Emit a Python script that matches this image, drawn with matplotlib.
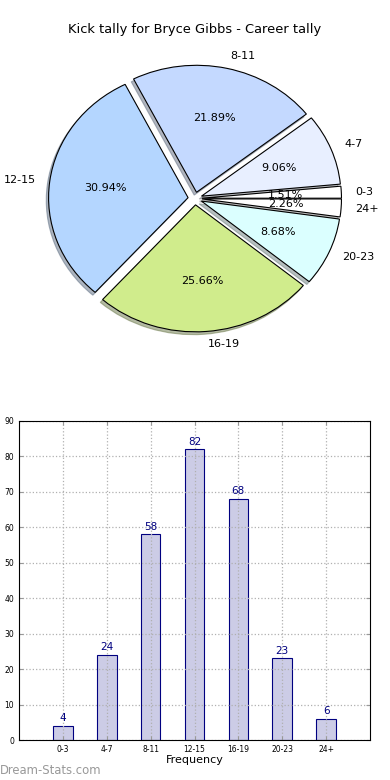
import matplotlib
matplotlib.use("Agg")
import matplotlib.pyplot as plt

title = "Kick tally for Bryce Gibbs - Career tally"
categories = ["0-3", "4-7", "8-11", "12-15", "16-19", "20-23", "24+"]
counts = [4, 24, 58, 82, 68, 23, 6]
pie_colors = ["#ffffff", "#e8efff", "#c4d9ff", "#b4d6ff", "#d0ec8c", "#dbffff", "#ffffff"]

fig = plt.figure(figsize=(3.9, 7.8), dpi=100)

# pie (top half), stretched horizontally like the original
ax1 = fig.add_axes([0.0, 428 / 780, 1.0, 307 / 780])
ax1.pie(counts, labels=categories, colors=pie_colors, explode=[0.05] * len(counts),
        autopct="%1.2f%%", startangle=0,
        shadow=dict(ox=-0.012, oy=-0.016, shade=0.5),
        wedgeprops=dict(edgecolor="black", linewidth=0.8),
        textprops=dict(fontsize=8))
ax1.set_aspect("auto")
ax1.set_xlim(-195 / 139.5, 195 / 139.5)
ax1.set_ylim(-153.5 / 127, 153.5 / 127)
fig.text(0.5, 1 - 30 / 780, title, ha="center", va="center", fontsize=9.4)

# bar chart (bottom half)
ax2 = fig.add_axes([19 / 390, 40 / 780, 351 / 390, 319 / 780])
x = list(range(len(categories)))
bars = ax2.bar(x, counts, width=0.45, color="#ccccE6", edgecolor="#000080", linewidth=0.8)
for xi, c in zip(x, counts):
    ax2.text(xi, c + 0.8, str(c), ha="center", va="bottom", fontsize=7.5, color="#000080")
ax2.set_xlim(-1, 7)
ax2.set_ylim(0, 90)
ax2.set_xticks(x)
ax2.set_xticklabels(categories)
ax2.set_yticks(range(0, 91, 10))
ax2.tick_params(labelsize=5.5, direction="in", length=3, top=True, right=True, color="#999999")
ax2.grid(True, linestyle=":", color="#b0b0b0", linewidth=0.9)
ax2.set_axisbelow(False)
for sp in ax2.spines.values():
    sp.set_zorder(3)
ax2.set_xlabel("Frequency", fontsize=8, labelpad=1)

fig.text(0.0, 1 - 771 / 780, "Dream-Stats.com", ha="left", va="center",
         fontsize=8.4, color="#999999")

fig.savefig("out.png", dpi=100)
